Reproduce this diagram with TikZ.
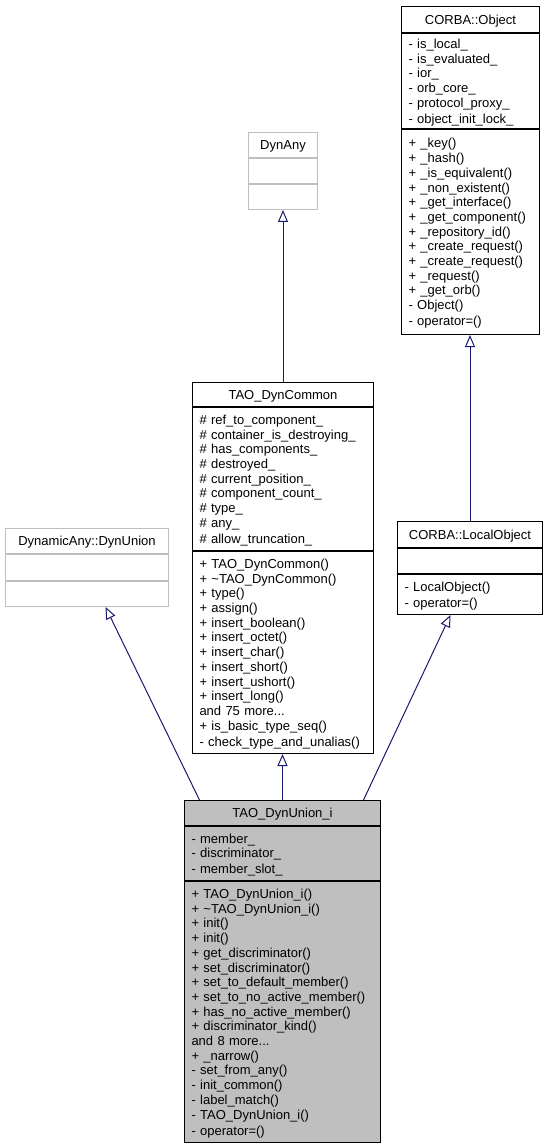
\documentclass[tikz,border=0pt]{standalone}
\usepackage{fontspec}
\setmainfont{Liberation Sans}
\usetikzlibrary{positioning,arrows.meta}

\definecolor{edgeblue}{HTML}{191970}
\definecolor{ghostgray}{HTML}{BFBFBF}
\newcommand\cls{\fontsize{13pt}{14.7pt}\selectfont}
\newcommand\rowstrut{\rule[-2.1pt]{0pt}{14.7pt}}

\tikzset{
  box/.style={draw=black, line width=1pt, fill=white, inner xsep=7pt, inner ysep=0pt,
    font=\cls, execute at begin node=\rowstrut, execute at end node=\rowstrut},
  head/.style={box, align=center},
  body/.style={box, align=left},
  ghost/.style={draw=ghostgray},
  focus/.style={fill=ghostgray},
  inherit/.style={draw=edgeblue, line width=1pt, -{Triangle[open, length=12pt, width=10pt]}}
}

\begin{document}
\begin{tikzpicture}[x=1pt,y=-1pt]
  \useasboundingbox (0,0) rectangle (549,1147);

  % CORBA::Object
  \node[head, anchor=north west, text width=124pt, minimum height=26pt] (Object head) at (401,6) {CORBA::Object};
  \node[body, text width=124pt, minimum height=95pt, below=0pt of Object head] (Object attr)
    {- is\_local\_\\- is\_evaluated\_\\- ior\_\\- orb\_core\_\\- protocol\_proxy\_\\- object\_init\_lock\_};
  \node[body, text width=124pt, minimum height=205pt, below=0pt of Object attr] (Object meth)
    {+ \_key()\\+ \_hash()\\+ \_is\_equivalent()\\+ \_non\_existent()\\+ \_get\_interface()\\
     + \_get\_component()\\+ \_repository\_id()\\+ \_create\_request()\\+ \_create\_request()\\
     + \_request()\\+ \_get\_orb()\\- Object()\\- operator=()};

  % DynAny
  \node[head, ghost, anchor=north west, text width=55pt, minimum height=25pt] (DynAny head) at (248,132) {DynAny};
  \node[body, ghost, text width=55pt, minimum height=25pt, below=0pt of DynAny head] (DynAny attr) {};
  \node[body, ghost, text width=55pt, minimum height=25pt, below=0pt of DynAny attr] (DynAny meth) {};

  % TAO_DynCommon
  \node[head, anchor=north west, text width=167pt, minimum height=24pt] (Common head) at (192,382) {TAO\_DynCommon};
  \node[body, text width=167pt, minimum height=143pt, below=0pt of Common head] (Common attr)
    {\# ref\_to\_component\_\\\# container\_is\_destroying\_\\\# has\_components\_\\\# destroyed\_\\
     \# current\_position\_\\\# component\_count\_\\\# type\_\\\# any\_\\\# allow\_truncation\_};
  \node[body, text width=167pt, minimum height=202pt, below=0pt of Common attr] (Common meth)
    {+ TAO\_DynCommon()\\+ \textasciitilde TAO\_DynCommon()\\+ type()\\+ assign()\\+ insert\_boolean()\\
     + insert\_octet()\\+ insert\_char()\\+ insert\_short()\\+ insert\_ushort()\\+ insert\_long()\\
     and 75 more...\\+ is\_basic\_type\_seq()\\- check\_type\_and\_unalias()};

  % DynamicAny::DynUnion
  \node[head, ghost, anchor=north west, text width=149pt, minimum height=25pt] (DynUnion head) at (5,528) {DynamicAny::DynUnion};
  \node[body, ghost, text width=149pt, minimum height=26pt, below=0pt of DynUnion head] (DynUnion attr) {};
  \node[body, ghost, text width=149pt, minimum height=25pt, below=0pt of DynUnion attr] (DynUnion meth) {};

  % CORBA::LocalObject
  \node[head, anchor=north west, text width=131pt, minimum height=26pt] (LocalObject head) at (397,521) {CORBA::LocalObject};
  \node[body, text width=131pt, minimum height=25pt, below=0pt of LocalObject head] (LocalObject attr) {};
  \node[body, text width=131pt, minimum height=40pt, below=0pt of LocalObject attr] (LocalObject meth)
    {- LocalObject()\\- operator=()};

  % TAO_DynUnion_i
  \node[head, focus, anchor=north west, text width=182pt, minimum height=25pt] (Union head) at (184,800) {TAO\_DynUnion\_i};
  \node[body, focus, text width=182pt, minimum height=54pt, below=0pt of Union head] (Union attr)
    {- member\_\\- discriminator\_\\- member\_slot\_};
  \node[body, focus, text width=182pt, minimum height=261pt, below=0pt of Union attr] (Union meth)
    {+ TAO\_DynUnion\_i()\\+ \textasciitilde TAO\_DynUnion\_i()\\+ init()\\+ init()\\+ get\_discriminator()\\
     + set\_discriminator()\\+ set\_to\_default\_member()\\+ set\_to\_no\_active\_member()\\
     + has\_no\_active\_member()\\+ discriminator\_kind()\\and 8 more...\\+ \_narrow()\\
     - set\_from\_any()\\- init\_common()\\- label\_match()\\- TAO\_DynUnion\_i()\\- operator=()};

  % inheritance
  \draw[inherit] (Common head.north) -- (DynAny meth.south);
  \draw[inherit] (LocalObject head.north) -- (LocalObject head.north |- Object meth.south);
  \draw[inherit] ([xshift=-83pt]Union head.north) -- ([xshift=18.5pt]DynUnion meth.south);
  \draw[inherit] (Union head.north) -- (Union head.north |- Common meth.south);
  \draw[inherit] ([xshift=81pt]Union head.north) -- ([xshift=-19.5pt]LocalObject meth.south);
\end{tikzpicture}
\end{document}
